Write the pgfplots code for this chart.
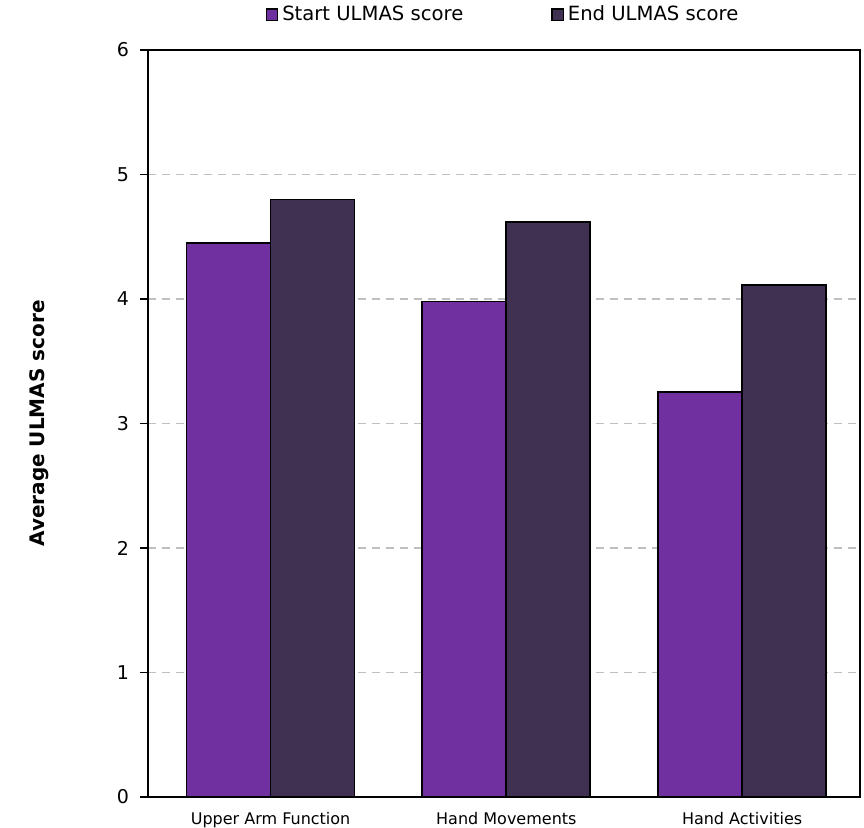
\documentclass[border=0pt]{standalone}
\usepackage{pgfplots}
\pgfplotsset{compat=1.18}
\usepackage{fontspec}
\setmainfont{DejaVu Sans}
\definecolor{startc}{HTML}{7030A0}
\definecolor{endc}{HTML}{403152}
\definecolor{gridc}{HTML}{C0C0C0}
\begin{document}
\begin{tikzpicture}
\begin{axis}[
  name=ax,
  scale only axis,
  width=356pt, height=373.5pt,
  ymin=0, ymax=6, ytick={0,1,2,3,4,5,6},
  xmin=-0.52, xmax=2.5,
  xtick={0,1,2},
  xticklabels={Upper Arm Function, Hand Movements, Hand Activities},
  x tick label style={font=\fontsize{8}{9.5}\selectfont},
  y tick label style={font=\fontsize{9.5}{11}\selectfont, xshift=-2pt},
  /pgf/number format/assume math mode=true,
  major x tick style={draw=none},
  ytick pos=left,
  ytick style={black, line width=0.6pt},
  tick align=outside,
  major tick length=4pt,
  ymajorgrids,
  grid style={gridc, dash pattern=on 4pt off 3pt, line width=0.7pt},
  axis line style={black, line width=0.8pt},
  ylabel={\textbf{Average ULMAS score}},
  ylabel style={font=\fontsize{10}{12}\selectfont, at={(axis description cs:0,0.5)}, anchor=south, yshift=46pt},
  ybar=0pt,
  bar width=42pt,
  legend style={at={(0.5,1)}, anchor=south, yshift=9pt, draw=none, fill=none,
    legend columns=2, font=\fontsize{9.8}{11}\selectfont,
    /tikz/every even column/.append style={column sep=42pt}},
  legend image code/.code={\draw[#1, line width=0.6pt] (0.5pt,-2.8pt) rectangle (6.2pt,2.8pt);},
  legend cell align=left,
  clip=false,
]
\addplot[fill=startc, draw=black, line width=0.9pt, bar shift=-21pt] coordinates {(0,4.45) (1,3.98) (2,3.25)};
\addplot[fill=endc, draw=black, line width=0.9pt, bar shift=21pt] coordinates {(0,4.80) (1,4.62) (2,4.11)};
\legend{Start ULMAS score, End ULMAS score}
\end{axis}
\pgfresetboundingbox
\path[use as bounding box] (ax.south west) ++(-74pt,-15pt) rectangle ++(432pt,413.5pt);
\end{tikzpicture}
\end{document}
